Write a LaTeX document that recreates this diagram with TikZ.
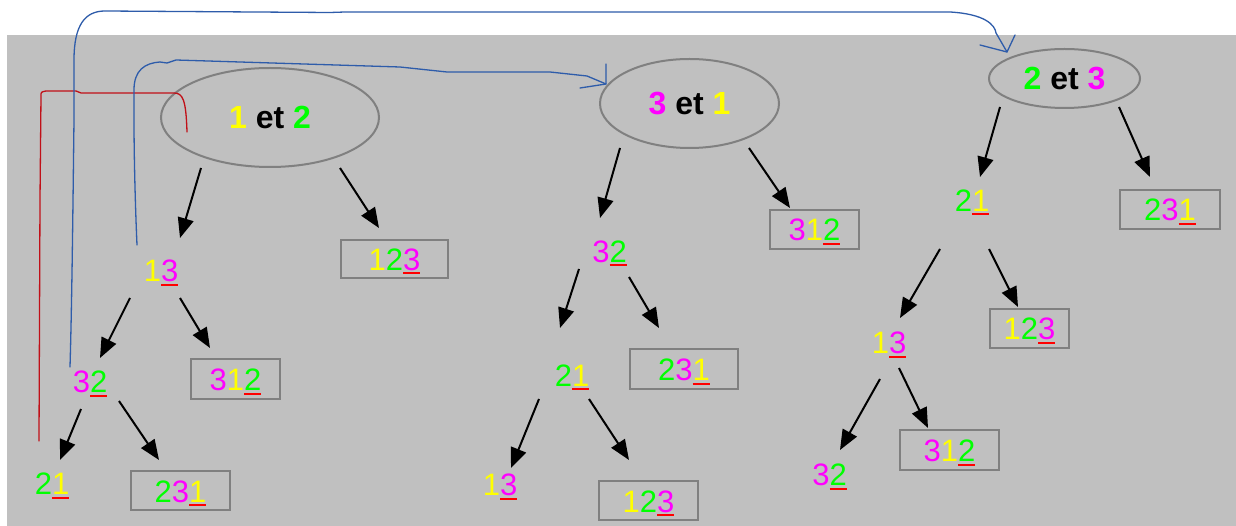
\documentclass[tikz,border=0pt]{standalone}
\usepackage{fontspec}
\setmainfont{Liberation Sans}
\usetikzlibrary{arrows.meta,calc,shapes.geometric}
\definecolor{bg}{RGB}{192,192,192}
\definecolor{yel}{RGB}{255,255,0}
\definecolor{grn}{RGB}{0,255,0}
\definecolor{mag}{RGB}{255,0,255}
\definecolor{ulred}{RGB}{255,0,0}
\definecolor{pen}{RGB}{46,92,170}
\definecolor{penred}{RGB}{192,16,24}
\definecolor{edge}{RGB}{128,128,128}
\newcommand\Yd[1]{\textcolor{yel}{#1}}
\newcommand\Gd[1]{\textcolor{grn}{#1}}
\newcommand\Md[1]{\textcolor{mag}{#1}}
\newcommand\Ud[2]{\setbox0\hbox{#2}\textcolor{#1}{\copy0}\llap{\textcolor{ulred}{\rule[-4pt]{\wd0}{2pt}}}}
\newcommand\conn[6]{\draw[arr] ($(#1)+(#2,#3)$) -- ($(#4)+(#5,#6)$);}
\tikzset{
  lbl/.style={font=\fontsize{31}{38}\selectfont, text height=23pt, text depth=0pt, inner sep=0pt},
  pbox/.style={lbl, draw=edge, line width=2pt, fill=bg},
  ell/.style={ellipse, draw=edge, line width=2pt, font=\bfseries\fontsize{32}{38}\selectfont, text height=23pt, text depth=0pt, inner sep=0pt},
  arr/.style={line width=2pt, black, -{Triangle[length=20pt,width=16pt]}},
  penline/.style={pen, line width=1.3pt, line cap=round, line join=round},
  redline/.style={penred, line width=1.3pt, line cap=round, line join=round}
}
\begin{document}
\begin{tikzpicture}[x={(1pt,0)},y={(0,-1pt)}]
\useasboundingbox (0,0) rectangle (1236,526);
\fill[white] (0,0) rectangle (1236,526);
\fill[bg] (7,35) rectangle (1236,526);

% tree 1
\node[ell, minimum width=218pt, minimum height=99pt] (e1) at (270,117.5) {\Yd{1} et \Gd{2}};
\node[lbl] (a13) at (161,270.5) {\Yd{1}\Ud{mag}{3}};
\node[pbox, minimum width=107pt, minimum height=38pt] (a123) at (394.5,259) {\Yd{1}\Gd{2}\Ud{mag}{3}};
\node[lbl] (a32) at (90,381) {\Md{3}\Ud{grn}{2}};
\node[pbox, minimum width=89pt, minimum height=40pt] (a312) at (235.5,379) {\Md{3}\Yd{1}\Ud{grn}{2}};
\node[lbl] (a21) at (52,483) {\Gd{2}\Ud{yel}{1}};
\node[pbox, minimum width=99pt, minimum height=39pt] (a231) at (180.5,490.5) {\Gd{2}\Md{3}\Ud{yel}{1}};

% tree 2
\node[ell, minimum width=179pt, minimum height=89pt] (e2) at (689.5,103.5) {\Md{3} et \Yd{1}};
\node[lbl] (b32) at (609.5,251) {\Md{3}\Ud{grn}{2}};
\node[pbox, minimum width=89pt, minimum height=39pt] (b312) at (814.5,229.5) {\Md{3}\Yd{1}\Ud{grn}{2}};
\node[lbl] (b21) at (572,374.5) {\Gd{2}\Ud{yel}{1}};
\node[pbox, minimum width=108pt, minimum height=40pt] (b231) at (684,369) {\Gd{2}\Md{3}\Ud{yel}{1}};
\node[lbl] (b13) at (500,484) {\Yd{1}\Ud{mag}{3}};
\node[pbox, minimum width=99pt, minimum height=39pt] (b123) at (648.5,500.5) {\Yd{1}\Gd{2}\Ud{mag}{3}};

% tree 3
\node[ell, minimum width=151pt, minimum height=59pt] (e3) at (1064.5,78.5) {\Gd{2} et \Md{3}};
\node[lbl] (c21) at (972,200) {\Gd{2}\Ud{yel}{1}};
\node[pbox, minimum width=100pt, minimum height=39pt] (c231) at (1170,209.5) {\Gd{2}\Md{3}\Ud{yel}{1}};
\node[lbl] (c13) at (889,342) {\Yd{1}\Ud{mag}{3}};
\node[pbox, minimum width=79pt, minimum height=39pt] (c123) at (1029.5,328.5) {\Yd{1}\Gd{2}\Ud{mag}{3}};
\node[lbl] (c32) at (829.5,474) {\Md{3}\Ud{grn}{2}};
\node[pbox, minimum width=99pt, minimum height=40pt] (c312) at (949.5,450) {\Md{3}\Yd{1}\Ud{grn}{2}};

% arrows
\conn{e1}{-69}{50.5}{a13}{19}{-32.5}
\conn{e1}{70}{50.5}{a123}{-15.5}{-31}
\conn{a13}{-31}{27.5}{a32}{10}{-23}
\conn{a13}{19}{27.5}{a312}{-25.5}{-31}
\conn{a32}{-9}{28}{a21}{8}{-23}
\conn{a32}{29}{20}{a231}{-21.5}{-30.5}

\conn{e2}{-69.5}{44.5}{b32}{-9.5}{-33}
\conn{e2}{59.5}{44.5}{b312}{-24.5}{-21.5}
\conn{b32}{-30.5}{18}{b21}{-12}{-46.5}
\conn{b32}{19.5}{26}{b231}{-25}{-41}
\conn{b21}{-33}{24.5}{b13}{11}{-16}
\conn{b21}{17}{24.5}{b123}{-19.5}{-40.5}

\conn{e3}{-64.5}{28.5}{c21}{8}{-23}
\conn{e3}{54.5}{28.5}{c231}{-20}{-32.5}
\conn{c21}{-32}{49}{c13}{11}{-24}
\conn{c21}{17}{49}{c123}{-11.5}{-21.5}
\conn{c13}{-9}{37}{c32}{10.5}{-24}
\conn{c13}{10}{26}{c312}{-21.5}{-22}

% hand-drawn annotations
\draw[redline] (39,441) -- (40,200) -- (41,96) .. controls (41,92) .. (46,91) -- (76,91) -- (81,93) -- (174,93) .. controls (183,93) and (186,100) .. (187,132);
\draw[penline] (70,367) .. controls (72,300) and (73,200) .. (74,120) -- (74,60) .. controls (74,25) and (85,11) .. (105,11) -- (330,12.5) -- (345,12) -- (600,12) -- (950,12) .. controls (985,14) and (995,25) .. (996,33) -- (1007,52);
\draw[penline] (980,45) -- (1007,52) -- (1015,35);
\draw[penline] (137,245) .. controls (135,200) and (134,150) .. (134,120) -- (134,90) .. controls (134,70) and (145,63) .. (160,62) -- (167,63) -- (176,60) -- (400,67) -- (447,72) -- (550,72) -- (587,76) -- (606,84);
\draw[penline] (580,88) -- (606,84) -- (606,64);
\end{tikzpicture}
\end{document}
